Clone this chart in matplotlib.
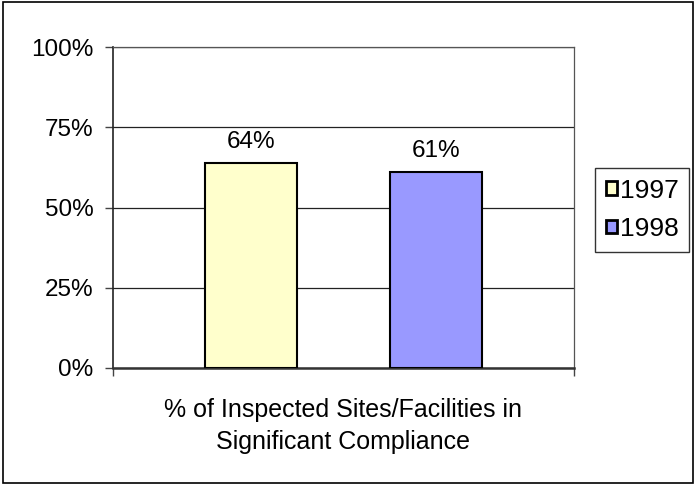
import matplotlib
matplotlib.use("Agg")
import matplotlib.pyplot as plt
from matplotlib.patches import Rectangle

years = ["1997", "1998"]
values = [64, 61]
colors = ["#FFFFCC", "#9999FF"]
yticks = [0, 25, 50, 75, 100]
category = "% of Inspected Sites/Facilities in\nSignificant Compliance"

plt.rcParams["font.family"] = ["Liberation Sans", "DejaVu Sans"]

fig = plt.figure(figsize=(6.94, 4.84), dpi=100)
ax = fig.add_axes([113 / 694, 1 - 368 / 484, 461 / 694, 321 / 484])

positions = [1.5, 3.5]
bars = ax.bar(positions, values, width=1.0, color=colors, edgecolor="black",
              linewidth=1.5, zorder=3, label=years)
for b, v in zip(bars, values):
    ax.annotate(f"{v}%", (b.get_x() + b.get_width() / 2, v), xytext=(0, 7),
                textcoords="offset points", ha="center", va="bottom", fontsize=17.5)

ax.set_xlim(0, 5)
ax.set_ylim(0, 100)
ax.set_yticks(yticks)
ax.set_yticklabels([f"{t}%" for t in yticks], fontsize=17.5)
ax.set_xticks([0, 5])
ax.set_xticklabels([])
ax.tick_params(axis="y", length=6, width=1, color="#444444", pad=8)
ax.tick_params(axis="x", length=6, width=1, color="#444444")
ax.grid(axis="y", color="#222222", linewidth=0.9, zorder=0)

for s in ["top", "right"]:
    ax.spines[s].set_color("#555555")
    ax.spines[s].set_linewidth(0.9)
ax.spines["left"].set_color("#222222")
ax.spines["left"].set_linewidth(1.2)
ax.spines["bottom"].set_color("#333333")
ax.spines["bottom"].set_linewidth(1.8)

ax.text(2.5, -9.5, category, transform=ax.transData, ha="center", va="top",
        fontsize=18, linespacing=1.4)

leg = fig.legend(handles=list(bars), labels=years, loc="upper left",
                 bbox_to_anchor=(595 / 694, 1 - 168 / 484), frameon=True,
                 fancybox=False, edgecolor="black", fontsize=19,
                 handlelength=0.42, handleheight=0.42, handletextpad=0.12,
                 borderpad=0.4, labelspacing=0.55, borderaxespad=0)
leg.get_frame().set_linewidth(1.0)
for h in leg.legend_handles:
    h.set_linewidth(2.0)

fig.patches.append(Rectangle((3 / 694, 1 / 484), 690 / 694, 481 / 484,
                             transform=fig.transFigure, fill=False,
                             edgecolor="black", linewidth=1.2))

fig.savefig("out.png", dpi=100)
